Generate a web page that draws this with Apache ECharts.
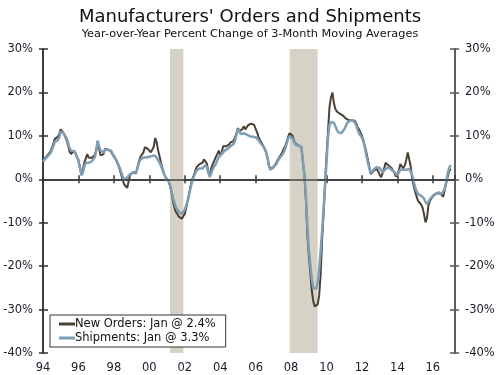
<!DOCTYPE html>
<html>
<head>
<meta charset="utf-8">
<title>Manufacturers' Orders and Shipments</title>
<script src="https://cdn.jsdelivr.net/npm/echarts@6/dist/echarts.min.js"></script>
<style>
  html, body { margin: 0; padding: 0; background: #fff; }
  #chart { width: 500px; height: 375px; }
</style>
</head>
<body>
<div id="chart"></div>
<script>
// monthly data, Jan 1994 .. Jan 2017 (yoy % change of 3-month moving averages)
var startYear = 1994;

var newOrders = [
  4.2, 4.8, 5.2, 5.5, 5.8, 6.4, 7.2, 8.2, 9.3, 9.6, 9.8, 10.4,        // 1994
  11.5, 11.3, 10.6, 9.8, 9.0, 7.8, 6.4, 5.8, 6.2, 6.6, 6.0, 5.0,     // 1995
  4.5, 2.6, 1.2, 2.2, 3.9, 4.8, 5.8, 5.0, 4.6, 4.9, 5.1, 5.6,         // 1996
  6.6, 8.5, 7.0, 5.5, 5.5, 5.8, 7.0, 7.0, 6.8, 6.6, 6.4, 6.0,         // 1997
  5.2, 4.7, 4.0, 3.2, 2.2, 1.0, -0.2, -1.2, -1.0, -2.0, -0.5, 1.0,    // 1998
  1.4, 1.6, 1.2, 1.4, 2.8, 4.2, 5.2, 5.4, 6.2, 7.4, 7.2, 7.0,         // 1999
  7.1, 6.2, 5.8, 7.5, 9.5, 8.5, 6.6, 5.2, 3.6, 2.4, 1.2, 0.5,         // 2000
  0.3, -0.5, -1.5, -3.0, -5.0, -6.5, -7.5, -8.0, -8.6, -8.8, -9.1, -8.5, // 2001
  -8.0, -6.5, -4.9, -3.2, -1.5, 0.0, 0.8, 1.8, 2.8, 3.2, 3.5, 3.8,    // 2002
  3.8, 4.6, 5.0, 3.6, 1.6, 0.8, 2.6, 3.5, 4.3, 5.1, 5.8, 6.6,         // 2003
  5.4, 6.2, 7.6, 7.4, 7.6, 7.8, 8.0, 8.5, 8.6, 8.8, 9.6, 10.5,        // 2004
  11.8, 11.0, 10.8, 11.6, 12.2, 11.5, 12.0, 12.5, 12.3, 12.8, 13.1, 12.5, // 2005
  11.6, 10.8, 9.7, 9.0, 8.4, 7.8, 7.0, 6.2, 5.0, 3.2, 2.4, 2.8,       // 2006
  2.8, 3.2, 3.8, 4.5, 5.1, 5.6, 6.2, 7.0, 7.6, 8.6, 9.8, 10.6,        // 2007
  10.8, 10.0, 8.9, 8.2, 7.8, 7.8, 8.0, 7.4, 4.0, 1.0, -4.5, -12.5,    // 2008
  -17.5, -21.5, -25.6, -28.0, -29.3, -29.6, -28.8, -26.8, -22.0, -14.0, -8.0, -1.0, // 2009
  5.5, 11.0, 16.6, 18.8, 20.0, 17.5, 16.2, 15.6, 15.3, 15.1, 14.9, 14.7, // 2010
  14.4, 14.0, 13.8, 13.6, 13.5, 13.6, 13.6, 13.5, 13.0, 12.0, 11.5, 11.2, // 2011
  10.0, 8.9, 7.6, 6.2, 4.5, 2.8, 1.2, 1.5, 2.0, 2.2, 2.4, 1.8,        // 2012
  1.0, 0.5, 0.8, 2.5, 3.8, 3.6, 3.2, 2.9, 2.6, 2.4, 1.5, 0.6,         // 2013
  0.4, 2.0, 3.5, 3.0, 2.5, 3.2, 4.5, 6.2, 6.0, 3.0, 0.0, -1.5,        // 2014
  -2.8, -4.0, -5.0, -5.4, -5.8, -6.5, -8.0, -9.9, -9.0, -6.0, -5.0, -4.4, // 2015
  -4.0, -3.6, -3.4, -3.2, -3.1, -3.3, -3.5, -4.0, -2.5, -1.0, 0.5, 1.8, // 2016
  2.4                                                                 // 2017
];

var shipments = [
  4.0, 4.5, 4.9, 5.2, 5.6, 6.0, 6.8, 7.6, 8.6, 9.0, 9.0, 9.6,         // 1994
  11.0, 11.2, 10.6, 10.0, 9.4, 8.4, 7.2, 6.6, 6.8, 6.5, 6.0, 5.2,     // 1995
  4.3, 2.8, 0.9, 1.5, 3.0, 3.8, 4.0, 3.8, 3.9, 4.1, 4.3, 5.0,         // 1996
  6.5, 8.9, 7.6, 6.6, 6.2, 6.2, 6.8, 7.0, 6.8, 6.6, 6.6, 6.2,         // 1997
  5.4, 4.8, 4.2, 3.4, 2.6, 1.6, 0.6, -0.2, 0.0, 0.4, 0.8, 1.2,        // 1998
  1.4, 1.6, 1.5, 1.6, 2.6, 3.8, 4.6, 5.0, 5.0, 4.8, 5.0, 5.1,         // 1999
  5.2, 5.2, 5.4, 5.6, 5.4, 5.0, 4.4, 3.8, 3.0, 2.2, 1.2, 0.4,         // 2000
  0.2, -0.4, -1.2, -2.6, -4.2, -5.4, -6.4, -7.0, -7.5, -7.8, -8.0, -7.6, // 2001
  -7.0, -6.0, -4.9, -3.5, -1.8, -0.5, 0.5, 1.3, 2.0, 2.3, 2.5, 2.6,   // 2002
  2.5, 2.9, 3.3, 2.8, 1.5, 0.5, 1.5, 2.4, 3.0, 3.5, 4.3, 5.1,         // 2003
  5.1, 5.8, 6.2, 6.6, 6.8, 7.0, 7.4, 7.6, 7.9, 8.1, 8.8, 10.2,        // 2004
  11.6, 11.0, 10.4, 10.2, 10.6, 10.7, 10.3, 10.0, 9.9, 9.9, 9.8, 9.7, // 2005
  9.7, 9.4, 9.0, 8.5, 8.0, 7.6, 7.2, 6.4, 5.0, 3.0, 2.2, 2.5,         // 2006
  2.7, 2.9, 3.5, 4.2, 4.8, 5.2, 5.6, 6.2, 7.0, 8.2, 9.4, 9.9,         // 2007
  10.0, 9.4, 8.6, 8.0, 7.6, 7.7, 8.0, 7.4, 4.3, 1.0, -3.5, -10.5,     // 2008
  -16.0, -19.5, -23.0, -25.0, -25.4, -25.2, -23.8, -21.0, -16.5, -12.0, -7.0, -1.5, // 2009
  4.0, 9.5, 12.5, 13.2, 13.5, 13.0, 12.2, 11.4, 10.8, 10.4, 10.6, 11.0, // 2010
  11.5, 12.2, 13.0, 13.3, 13.5, 13.6, 13.6, 13.4, 12.6, 11.5, 10.6, 10.1, // 2011
  9.6, 8.7, 7.2, 5.4, 3.8, 2.5, 1.4, 1.8, 2.3, 2.6, 2.8, 2.6,         // 2012
  2.6, 2.2, 1.6, 1.8, 2.4, 2.8, 2.8, 2.5, 2.2, 2.0, 1.6, 1.2,         // 2013
  1.0, 1.6, 2.2, 2.4, 2.2, 2.0, 2.2, 2.4, 2.4, 2.0, 1.0, -0.5,        // 2014
  -1.8, -2.8, -3.4, -3.6, -3.8, -4.0, -4.4, -5.2, -5.7, -5.2, -4.6, -4.2, // 2015
  -3.8, -3.5, -3.3, -3.2, -3.0, -3.2, -3.4, -3.6, -2.2, -0.6, 1.2, 2.5, // 2016
  3.3                                                                 // 2017
];

// recession periods (decimal years): Mar-Nov 2001, Dec 2007-Jun 2009
var recessions = [[2001.17, 2001.92], [2007.92, 2009.5]];

var FONT = '"DejaVu Sans", Verdana, sans-serif';

function toPairs(arr){ var ls = []; for(var i=0; i<arr.length; i++){ ls.push([startYear + i/12, arr[i]]); } return ls; }
function pct(v){ return v + '%'; }
function yearLabel(v){
	if (Math.abs(v - Math.round(v)) > 0.01 || Math.round(v) % 2 !== 0) return '';
	var y = Math.round(v) % 100;
	return (y < 10 ? '0' : '') + y;
}

var lastOrders = newOrders[newOrders.length - 1];
var lastShip = shipments[shipments.length - 1];
var nameOrders = 'New Orders: Jan @ ' + lastOrders.toFixed(1) + '%';
var nameShip = 'Shipments: Jan @ ' + lastShip.toFixed(1) + '%';

var yBase = { type: 'value', min: -40, max: 30, interval: 10, splitLine: { show: false } };
function yAxisCfg(pos, showLabel, inside, color){
	return Object.assign({}, yBase, {
		position: pos,
		axisLine: { show: true, lineStyle: { color: color, width: 1.5 } },
		axisTick: { show: true, inside: inside, length: inside ? 5 : 4, lineStyle: { color: color, width: 1.5 } },
		axisLabel: { show: showLabel, formatter: pct, margin: 10, color: '#1a1a2a', fontFamily: FONT, fontSize: 11.5 }
	});
}

var chart = echarts.init(document.getElementById('chart'));
var option = {
	animation: false,
	backgroundColor: '#fff',
	title: {
		text: "Manufacturers' Orders and Shipments",
		subtext: 'Year-over-Year Percent Change of 3-Month Moving Averages',
		left: 'center', top: 3, itemGap: 3,
		textStyle: { fontFamily: FONT, fontSize: 18, fontWeight: 'normal', color: '#111' },
		subtextStyle: { fontFamily: FONT, fontSize: 11.3, color: '#111' }
	},
	grid: { left: 43, right: 45, top: 49, bottom: 22 },
	xAxis: [
		{ type: 'value', min: 1994, max: 2017.25, interval: 2, position: 'bottom',
		  axisLine: { lineStyle: { color: '#333', width: 1.5 } },
		  axisTick: { length: 4, lineStyle: { color: '#333', width: 1.5 } },
		  axisLabel: { formatter: yearLabel, margin: 9, color: '#1a1a2a', fontFamily: FONT, fontSize: 11.5, showMaxLabel: false },
		  splitLine: { show: false } },
		{ type: 'value', min: 1994, max: 2017.25, interval: 2, position: 'bottom', gridIndex: 0,
		  axisLine: { show: false },
		  axisTick: { inside: true, length: 4, lineStyle: { color: '#333', width: 1.5 } },
		  axisLabel: { show: false }, splitLine: { show: false } },
		{ type: 'value', min: 1994, max: 2017.25, position: 'top',
		  axisLine: { lineStyle: { color: '#333', width: 1.5 } },
		  axisTick: { show: false }, axisLabel: { show: false }, splitLine: { show: false } }
	],
	yAxis: [
		yAxisCfg('left', true, false, '#333'),
		yAxisCfg('right', true, false, '#555'),
		yAxisCfg('left', false, true, '#333'),
		yAxisCfg('right', false, true, '#555')
	],
	legend: {
		left: 50, top: 315, orient: 'vertical',
		backgroundColor: '#fff', borderColor: '#333', borderWidth: 1,
		padding: [3, 10, 3, 9], itemGap: 2, itemWidth: 16, itemHeight: 3,
		icon: 'rect',
		textStyle: { fontFamily: FONT, fontSize: 11.5, color: '#111', padding: [0, 0, 0, -5] },
		data: [nameOrders, nameShip]
	},
	series: [
		{ type: 'line', name: 'bands', data: [], z: 1, silent: true,
		  markArea: { silent: true, itemStyle: { color: '#d6d2c5' },
			data: recessions.map(function(r){ return [{ xAxis: r[0] }, { xAxis: r[1] }]; }) },
		  markLine: { silent: true, symbol: 'none', label: { show: false },
			lineStyle: { color: '#444', width: 1.5, type: 'solid' },
			data: [{ yAxis: 0 }] } },
		{ type: 'line', name: nameOrders, data: toPairs(newOrders), showSymbol: false, z: 3,
		  color: '#4a4036', lineStyle: { color: '#4a4036', width: 2 } },
		{ type: 'line', name: nameShip, data: toPairs(shipments), showSymbol: false, z: 4,
		  color: '#7f9eb4', lineStyle: { color: '#7f9eb4', width: 2.5 } }
	]
};
chart.setOption(option);
</script>
</body>
</html>
